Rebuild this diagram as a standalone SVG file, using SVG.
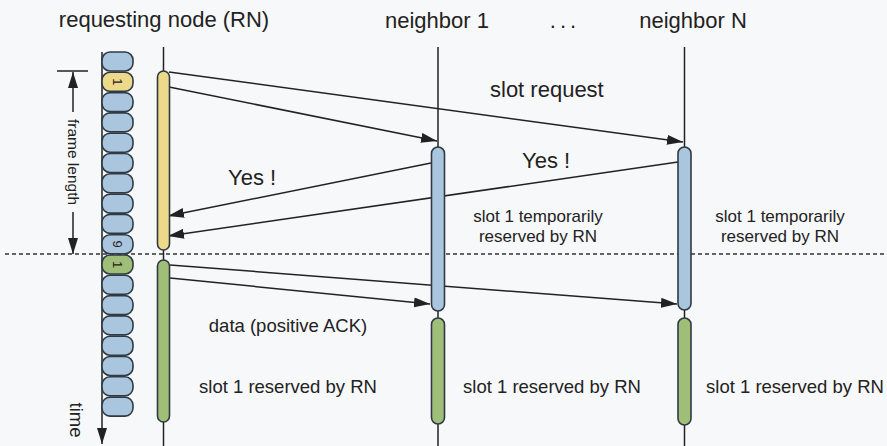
<svg xmlns="http://www.w3.org/2000/svg" width="887" height="446" viewBox="0 0 887 446">
<defs>
<marker id="ah" markerUnits="userSpaceOnUse" markerWidth="17" markerHeight="11" refX="16" refY="5" orient="auto">
<path d="M0,0 L16,5 L0,10 z" fill="#222"/>
</marker>
<style>
text{font-family:"Liberation Sans",Arial,sans-serif;fill:#222}
.hdr{font-size:22px;text-anchor:middle}
.lbl{font-size:22px}
.sm{font-size:17px;text-anchor:middle}
.md{font-size:18.5px;text-anchor:middle}
.slot{fill:#a9c6de;stroke:#2f3a44;stroke-width:1.6}
.slot.y{fill:#ecd98a}
.slot.g{fill:#9fbf78}
.num{font-size:13px;text-anchor:middle}
.life{stroke:#222;stroke-width:1.5}
.bar{stroke:#2f3a44;stroke-width:1.6}
.blue{fill:#a9c6de}
.yel{fill:#ecd98a}
.grn{fill:#9fbf78}
.conn line{stroke:#222;stroke-width:1.5;marker-end:url(#ah)}
</style>
</defs>
<rect width="887" height="446" fill="#f7f8f9"/>

<g id="headers">
<text class="hdr" x="164" y="27">requesting node (RN)</text>
<text class="hdr" x="437" y="28">neighbor 1</text>
<text class="hdr" x="565" y="28" letter-spacing="4">...</text>
<text class="hdr" x="693" y="28">neighbor N</text>
</g>

<g id="separator">
<line x1="5" y1="254" x2="887" y2="254" stroke="#333" stroke-width="1.5" stroke-dasharray="4 3"/>
</g>

<g id="frame-length">
<line x1="57" y1="71" x2="88" y2="71" stroke="#222" stroke-width="1.5"/>
<line x1="73" y1="112" x2="73" y2="72" stroke="#222" stroke-width="1.5" marker-end="url(#ah)"/>
<line x1="73" y1="212" x2="73" y2="254" stroke="#222" stroke-width="1.5" marker-end="url(#ah)"/>
<text transform="translate(68,162) rotate(90)" font-size="15.5" text-anchor="middle">frame length</text>
</g>

<g id="slots">
<line x1="102" y1="52" x2="102" y2="444" stroke="#222" stroke-width="1.5" marker-end="url(#ah)"/>
<rect class="slot" x="102" y="52" width="31" height="19" rx="8"/>
<rect class="slot y" x="102" y="72.3" width="31" height="19" rx="8"/>
<rect class="slot" x="102" y="92.6" width="31" height="19" rx="8"/>
<rect class="slot" x="102" y="112.9" width="31" height="19" rx="8"/>
<rect class="slot" x="102" y="133.2" width="31" height="19" rx="8"/>
<rect class="slot" x="102" y="153.5" width="31" height="19" rx="8"/>
<rect class="slot" x="102" y="173.8" width="31" height="19" rx="8"/>
<rect class="slot" x="102" y="194.1" width="31" height="19" rx="8"/>
<rect class="slot" x="102" y="214.4" width="31" height="19" rx="8"/>
<rect class="slot" x="102" y="234.7" width="31" height="19" rx="8"/>
<rect class="slot g" x="102" y="255" width="31" height="19" rx="8"/>
<rect class="slot" x="102" y="275.3" width="31" height="19" rx="8"/>
<rect class="slot" x="102" y="295.6" width="31" height="19" rx="8"/>
<rect class="slot" x="102" y="315.9" width="31" height="19" rx="8"/>
<rect class="slot" x="102" y="336.2" width="31" height="19" rx="8"/>
<rect class="slot" x="102" y="356.5" width="31" height="19" rx="8"/>
<rect class="slot" x="102" y="376.8" width="31" height="19" rx="8"/>
<rect class="slot" x="102" y="397.1" width="31" height="19" rx="8"/>
<text class="num" transform="translate(113,81.8) rotate(90)">1</text>
<text class="num" transform="translate(113,244.2) rotate(90)">9</text>
<text class="num" transform="translate(113,264.5) rotate(90)">1</text>
<text transform="translate(70,420) rotate(90)" font-size="18.5" text-anchor="middle">time</text>
</g>

<g class="conn" id="connectors">
<line x1="169" y1="72" x2="683" y2="142"/>
<line x1="169" y1="87" x2="437" y2="141"/>
<line x1="431" y1="163" x2="168" y2="216"/>
<line x1="678" y1="162" x2="168" y2="236"/>
<line x1="170" y1="265" x2="677" y2="304"/>
<line x1="170" y1="278" x2="430" y2="304"/>
</g>

<g id="node-RN">
<line class="life" x1="163.5" y1="47" x2="163.5" y2="446"/>
<rect class="bar yel" x="157.5" y="71" width="12" height="179" rx="6"/>
<rect class="bar grn" x="157.5" y="260" width="12" height="162" rx="6"/>
</g>

<g id="node-neighbor1">
<line class="life" x1="438" y1="47" x2="438" y2="446"/>
<rect class="bar blue" x="431.5" y="147" width="13" height="164" rx="6.5"/>
<rect class="bar grn" x="431.5" y="318" width="13" height="106" rx="6.5"/>
</g>

<g id="node-neighborN">
<line class="life" x1="684.5" y1="47" x2="684.5" y2="446"/>
<rect class="bar blue" x="678" y="147" width="13" height="163" rx="6.5"/>
<rect class="bar grn" x="678" y="318" width="13" height="107" rx="6.5"/>
</g>

<g id="labels">
<text class="lbl" x="490" y="97">slot request</text>
<text class="lbl" x="228" y="185">Yes !</text>
<text class="lbl" x="522" y="168">Yes !</text>
<text class="sm" x="538" y="222">slot 1 temporarily</text>
<text class="sm" x="538" y="242">reserved by RN</text>
<text class="sm" x="780" y="222">slot 1 temporarily</text>
<text class="sm" x="780" y="242">reserved by RN</text>
<text class="md" x="288" y="332">data (positive ACK)</text>
<text class="md" x="288" y="393">slot 1 reserved by RN</text>
<text class="md" x="552" y="393">slot 1 reserved by RN</text>
<text class="md" x="795" y="393">slot 1 reserved by RN</text>
</g>
</svg>
